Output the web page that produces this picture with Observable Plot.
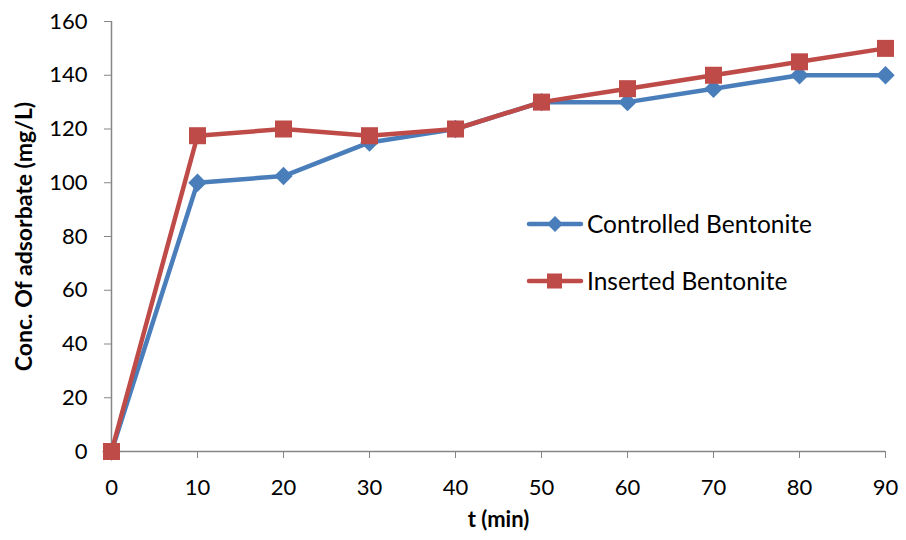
<!DOCTYPE html>
<html><head><meta charset="utf-8">
<script src="https://cdn.jsdelivr.net/npm/d3@7"></script>
<script src="https://cdn.jsdelivr.net/npm/@observablehq/plot@0.6"></script>
<style>
body{margin:0;background:#fff;font-family:Lato,"Open Sans",sans-serif;}
#wrap{position:relative;width:906px;height:540px;}
#legend{position:absolute;left:526px;top:195px;font-size:24.5px;color:#000;}
.item{display:flex;align-items:center;height:57px;}
.item svg{margin-right:3px;}
</style></head><body>
<div id="wrap"><div id="chart"></div>
<div id="legend"></div></div>
<script>
const times = [0,10,20,30,40,50,60,70,80,90];
const controlled = [0,100,102.5,115,120,130,130,135,140,140];
const inserted = [0,117.5,120,117.5,120,130,135,140,145,150];
const seriesNames = ["Controlled Bentonite","Inserted Bentonite"];
const colors = ["#4a7ebb","#be4b48"];
const yTicks = [0,20,40,60,80,100,120,140,160];
const xTicks = times;

const rowsC = times.map((t,i)=>({t, v:controlled[i]}));
const rowsI = times.map((t,i)=>({t, v:inserted[i]}));

const plot = Plot.plot({
  width:906, height:540,
  marginLeft:111, marginRight:21, marginTop:21, marginBottom:89,
  style:{fontFamily:"Lato, 'Open Sans', sans-serif", fontSize:"22px", color:"#000", background:"#fff"},
  x:{domain:[0,90], ticks:xTicks, label:null},
  y:{domain:[0,160], ticks:yTicks, label:null},
  marks:[
    Plot.axisX({ticks:xTicks, tickSize:7, tickPadding:21, stroke:"#868686", fill:"#000", fontSize:22, label:null}),
    Plot.axisY({ticks:yTicks, tickSize:7, tickPadding:17, stroke:"#868686", fill:"#000", fontSize:22, label:null}),
    Plot.ruleX([0],{stroke:"#868686", strokeWidth:1.5}),
    Plot.ruleY([0],{stroke:"#868686", strokeWidth:1.5}),
    Plot.line(rowsC,{x:"t",y:"v",stroke:colors[0],strokeWidth:4.5}),
    Plot.dot(rowsC,{x:"t",y:"v",symbol:"diamond2",r:8.3,fill:colors[0],stroke:"none"}),
    Plot.line(rowsI,{x:"t",y:"v",stroke:colors[1],strokeWidth:4.5}),
    Plot.dot(rowsI,{x:"t",y:"v",symbol:"square",r:9.6,fill:colors[1],stroke:"none"}),
    Plot.text(["t (min)"],{frameAnchor:"bottom",dy:75,fontWeight:"bold",fontSize:22,fill:"#000",textAnchor:"middle"}),
    Plot.text(["Conc. Of adsorbate (mg/L)"],{frameAnchor:"left",dx:-87,rotate:-90,fontWeight:"bold",fontSize:23,fill:"#000",textAnchor:"middle"})
  ]
});
document.getElementById("chart").append(plot);

const legend = document.getElementById("legend");
seriesNames.forEach((name,i)=>{
  const d = document.createElement("div"); d.className="item";
  const shape = i===0
    ? `<path d="M29,9 L37,17 L29,25 L21,17 Z" fill="${colors[0]}"/>`
    : `<rect x="21" y="9.5" width="15" height="15" fill="${colors[1]}"/>`;
  d.innerHTML = `<svg width="58" height="34"><line x1="3" x2="55" y1="17" y2="17" stroke="${colors[i]}" stroke-width="4.5" stroke-linecap="round"/>${shape}</svg><span>${name}</span>`;
  legend.append(d);
});
</script>
</body></html>
